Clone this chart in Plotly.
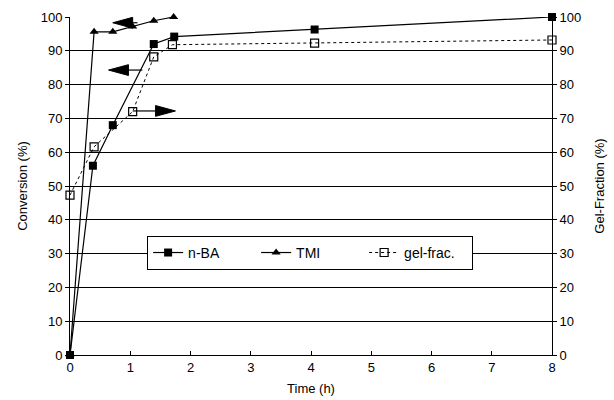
import plotly.graph_objects as go

# Data
nba_t = [0, 0.38, 0.71, 1.39, 1.73, 4.06, 8.0]
nba_c = [0, 56, 68, 92, 94.2, 96.3, 100]

tmi_t = [0, 0.40, 0.71, 1.04, 1.39, 1.72]
tmi_c = [0, 95.6, 95.6, 97.2, 98.9, 100]

gel_t = [0, 0.40, 1.04, 1.39, 1.70, 4.06, 8.0]
gel_f = [47.3, 61.6, 72.0, 88.2, 91.8, 92.3, 93.2]

# arrows: (tail_x, y, tip_x, axis)  -- indicates which axis the curve belongs to
arrows = [
    (1.12, 98.3, 0.71, "y"),
    (1.20, 84.3, 0.64, "y"),
    (1.04, 72.2, 1.75, "y"),
]

yticks = list(range(0, 101, 10))
xticks = list(range(0, 9))

fig = go.Figure()
fig.add_trace(go.Scatter(x=nba_t, y=nba_c, name="n-BA", mode="lines+markers",
                         line=dict(color="black", width=1.2),
                         marker=dict(symbol="square", size=8, color="black"),
                         cliponaxis=False))
fig.add_trace(go.Scatter(x=tmi_t, y=tmi_c, name="TMI", mode="lines+markers",
                         line=dict(color="black", width=1.2),
                         marker=dict(symbol="triangle-up", size=8, color="black"),
                         cliponaxis=False))
fig.add_trace(go.Scatter(x=gel_t, y=gel_f, name="gel-frac.", mode="lines+markers",
                         yaxis="y2",
                         line=dict(color="black", width=1, dash="dot"),
                         marker=dict(symbol="square-open", size=8, color="black",
                                     line=dict(width=1.2)),
                         cliponaxis=False))

shapes = []
head_len = 0.33
half_h = 1.6
for tail, y, tip, ax in arrows:
    d = 1 if tip > tail else -1
    base = tip - d * head_len
    shapes.append(dict(type="line", xref="x", yref=ax, x0=tail, x1=base, y0=y, y1=y,
                       line=dict(color="black", width=1.2)))
    shapes.append(dict(type="path", xref="x", yref=ax,
                       path=f"M{tip},{y} L{base},{y+half_h} L{base},{y-half_h} Z",
                       fillcolor="black", line=dict(color="black", width=1)))

font = dict(family="Liberation Sans, Arial, sans-serif", size=13, color="black")

fig.update_layout(
    width=614, height=400,
    margin=dict(l=70, r=62, t=17, b=45),
    paper_bgcolor="white", plot_bgcolor="white",
    font=font,
    shapes=shapes,
    xaxis=dict(range=[0, 8], tickvals=xticks, showgrid=False, zeroline=False,
               showline=True, linecolor="black", linewidth=1, automargin=False,
               ticks="inside", ticklen=4, tickcolor="black",
               title=dict(text="Time (h)", font=dict(size=13), standoff=10)),
    yaxis=dict(range=[0, 100], tickvals=yticks, showgrid=True, gridcolor="black",
               gridwidth=1, zeroline=False, showline=True, linecolor="black",
               automargin=False,
               ticks="outside", ticklen=4, tickcolor="black",
               title=dict(text="Conversion (%)", font=dict(size=13), standoff=10)),
    yaxis2=dict(range=[0, 100], tickvals=yticks, overlaying="y", side="right",
                showgrid=False, zeroline=False, showline=True, linecolor="black",
                automargin=False,
                ticks="outside", ticklen=4, tickcolor="black",
                title=dict(text="Gel-Fraction (%)", font=dict(size=13), standoff=14)),
    legend=dict(orientation="h", x=0.16, y=0.302, xanchor="left", yanchor="middle",
                bgcolor="white", bordercolor="black", borderwidth=1,
                font=dict(size=14), itemwidth=30, entrywidth=63),
    showlegend=True,
)

fig.write_html("out.html")
